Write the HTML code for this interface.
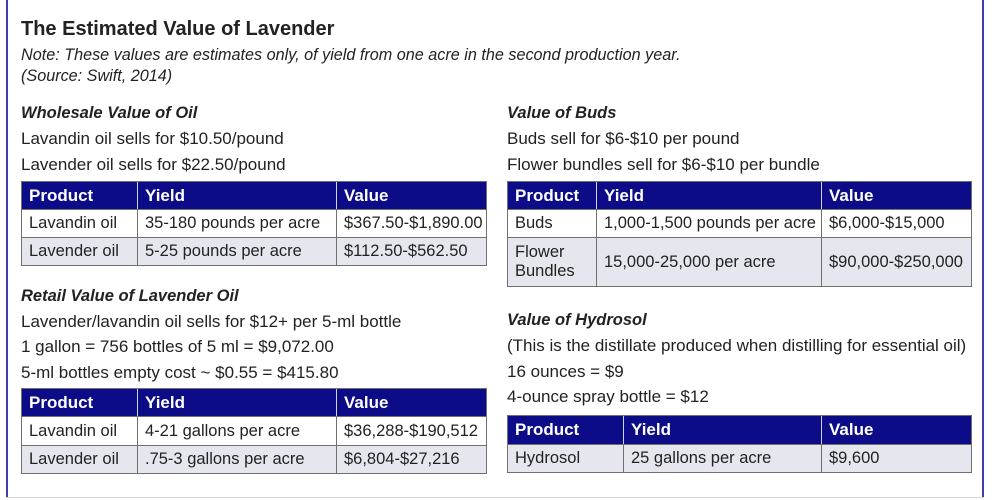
<!DOCTYPE html>
<html><head><meta charset="utf-8"><style>
body{margin:0;width:1000px;height:500px;background:#fff;position:relative;overflow:hidden;font-family:"Liberation Sans",sans-serif;color:#222}
.a{position:absolute;white-space:nowrap}
.t{font-size:17px;line-height:20px}
.h{font-size:16.5px;font-weight:bold;font-style:italic;line-height:20px}
table{position:absolute;border-collapse:collapse;font-size:16.5px}
td{border:1.5px solid #707070;padding:0 0 0 7px;color:#222;line-height:19px;white-space:nowrap}
th{background:#0c0c88;color:#fff;text-align:left;padding:0 0 0 7px;font-weight:bold;font-size:17px;border-left:1.5px solid #cfd3ee;border-top:1.5px solid #707070;border-bottom:1.5px solid #707070}
th:first-child{border-left:1.5px solid #707070}
th:last-child{border-right:1.5px solid #707070}
tr.g td{background:#e6e7ee}
</style></head><body>
<div class="a" style="left:6px;top:0;width:2px;height:498px;background:#3b3fb0"></div>
<div class="a" style="left:982px;top:0;width:2px;height:498px;background:#3b3fb0"></div>
<div class="a" style="left:6px;top:497px;width:978px;height:1px;background:#d6d6d6"></div>

<div class="a" style="left:21px;top:17px;font-size:20px;font-weight:bold;line-height:24px">The Estimated Value of Lavender</div>
<div class="a t" style="left:21px;top:45px;font-style:italic;font-size:16.2px">Note: These values are estimates only, of yield from one acre in the second production year.</div>
<div class="a t" style="left:21px;top:66px;font-style:italic;font-size:16.2px">(Source: Swift, 2014)</div>

<div class="a h" style="left:21px;top:103px">Wholesale Value of Oil</div>
<div class="a t" style="left:21px;top:129px">Lavandin oil sells for $10.50/pound</div>
<div class="a t" style="left:21px;top:155px">Lavender oil sells for $22.50/pound</div>
<table style="left:21px;top:181px;width:466px">
<tr style="height:28px"><th style="width:108px">Product</th><th style="width:191px">Yield</th><th>Value</th></tr>
<tr style="height:28px"><td>Lavandin oil</td><td>35-180 pounds per acre</td><td>$367.50-$1,890.00</td></tr>
<tr class="g" style="height:28px"><td>Lavender oil</td><td>5-25 pounds per acre</td><td>$112.50-$562.50</td></tr>
</table>

<div class="a h" style="left:21px;top:286px">Retail Value of Lavender Oil</div>
<div class="a t" style="left:21px;top:312px">Lavender/lavandin oil sells for $12+ per 5-ml bottle</div>
<div class="a t" style="left:21px;top:337px">1 gallon = 756 bottles of 5 ml = $9,072.00</div>
<div class="a t" style="left:21px;top:363px">5-ml bottles empty cost ~ $0.55 = $415.80</div>
<table style="left:21px;top:388px;width:466px">
<tr style="height:28px"><th style="width:108px">Product</th><th style="width:191px">Yield</th><th>Value</th></tr>
<tr style="height:29px"><td>Lavandin oil</td><td>4-21 gallons per acre</td><td>$36,288-$190,512</td></tr>
<tr class="g" style="height:28px"><td>Lavender oil</td><td>.75-3 gallons per acre</td><td>$6,804-$27,216</td></tr>
</table>

<div class="a h" style="left:507px;top:103px">Value of Buds</div>
<div class="a t" style="left:507px;top:129px">Buds sell for $6-$10 per pound</div>
<div class="a t" style="left:507px;top:155px">Flower bundles sell for $6-$10 per bundle</div>
<table style="left:507px;top:181px;width:465px">
<tr style="height:28px"><th style="width:81px">Product</th><th style="width:217px">Yield</th><th>Value</th></tr>
<tr style="height:28px"><td>Buds</td><td>1,000-1,500 pounds per acre</td><td>$6,000-$15,000</td></tr>
<tr class="g" style="height:49px"><td style="line-height:19px">Flower<br>Bundles</td><td>15,000-25,000 per acre</td><td>$90,000-$250,000</td></tr>
</table>

<div class="a h" style="left:507px;top:310px">Value of Hydrosol</div>
<div class="a t" style="left:507px;top:336px">(This is the distillate produced when distilling for essential oil)</div>
<div class="a t" style="left:507px;top:362px">16 ounces = $9</div>
<div class="a t" style="left:507px;top:387px">4-ounce spray bottle = $12</div>
<table style="left:507px;top:415px;width:465px">
<tr style="height:29px"><th style="width:108px">Product</th><th style="width:190px">Yield</th><th>Value</th></tr>
<tr class="g" style="height:28px"><td>Hydrosol</td><td>25 gallons per acre</td><td>$9,600</td></tr>
</table>
</body></html>
